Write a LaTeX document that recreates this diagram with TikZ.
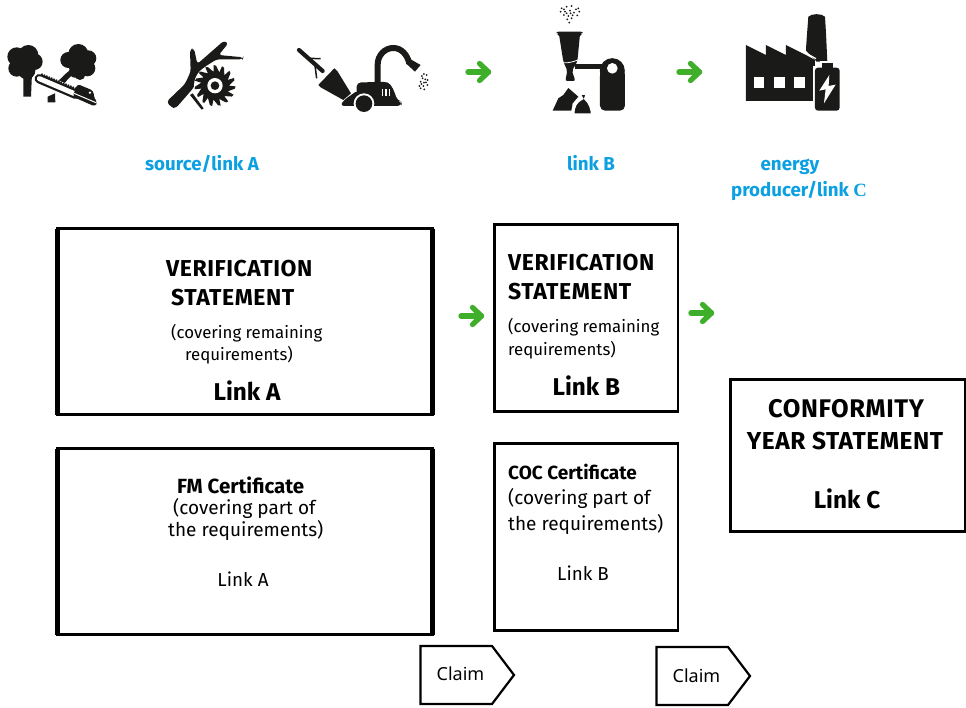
\documentclass[tikz,border=0pt]{standalone}
\usepackage{fontspec}
\usetikzlibrary{calc}
\setmainfont{Fira Sans}
\newfontfamily\capsfont[LetterSpace=2.4]{Fira Sans}
\newfontfamily\claimfont{Noto Sans}
\newfontfamily\serifb{Liberation Serif}
\definecolor{arrowgreen}{HTML}{3FAE2A}
\definecolor{linkblue}{HTML}{0AA0E2}
\definecolor{ink}{HTML}{1A1A18}
\tikzset{
  x=1pt,y=-1pt,
  boxbase/.style={draw=black,line width=2.7pt,fill=white,inner sep=0,outer sep=0,anchor=north west},
  sidebar/.style={draw=black,line width=5pt},
  head/.style={inner sep=0,anchor=base west,font=\capsfont\fontsize{23}{23}\selectfont\bfseries},
  plain/.style={inner sep=0,anchor=base west,font=\fontsize{16.8}{17}\selectfont},
  linkhead/.style={inner sep=0,anchor=base,font=\fontsize{24.3}{24}\selectfont\bfseries},
  cert/.style={inner sep=0,anchor=base west,font=\fontsize{19}{19}\selectfont\bfseries},
  certp/.style={inner sep=0,anchor=base west,font=\fontsize{19}{19}\selectfont},
  linkplain/.style={inner sep=0,anchor=base,font=\fontsize{18.8}{19}\selectfont},
  bluetxt/.style={inner sep=0,anchor=base,text=linkblue,font=\fontsize{18.7}{19}\selectfont\bfseries},
  claimtxt/.style={inner sep=0,anchor=base,font=\claimfont\fontsize{18}{18}\selectfont},
  greenarrow/.style={draw=arrowgreen,line width=5.3pt,line cap=round,line join=round},
  zoomed/.style={x=0.3333pt,y=-0.3333pt},
  claimshape/.style={draw=black,line width=2.2pt,fill=white,line join=miter}
}
\begin{document}
\begin{tikzpicture}
\useasboundingbox (0,0) rectangle (966,707);
\fill[white] (0,0) rectangle (966,707);

% --- icons, drawn in the 3x zoom coordinates
\begin{scope}[zoomed]
 % trees
 \foreach \a/\b/\r in {85/165/30,50/170/28,103/185/25,50/205/25,80/212/26,75/185/35}{\fill[ink] (\a,\b) circle[radius=\r];}
 \fill[ink] (70,220) -- (96,220) -- (93,290) -- (70,290) -- cycle;
 \foreach \a/\b/\r in {235/162/30,205/180/24,265/175/24,235/190/32,262/205/24,225/215/18,240/224/16}{\fill[ink] (\a,\b) circle[radius=\r];}
 \fill[ink] (172,245) .. controls (195,225) and (200,215) .. (220,205) -- (240,215) .. controls (215,222) and (205,235) .. (192,252) -- cycle;
 % chainsaw
 \draw[white,line width=12pt,line cap=round] (118,236) -- (228,283);
 \draw[ink,line width=9.5pt,line cap=round] (118,236) -- (228,283);
 \draw[white,line width=5pt,line cap=round] (118,236) -- (228,283);
 \draw[ink,line width=1.6pt,densely dotted] (124,222) -- (236,269);
 \fill[ink,rounded corners=3pt] (232,252) -- (280,272) -- (283,296) -- (292,306) -- (286,320) -- (218,290) -- cycle;
 \draw[white,line width=1pt] (222,280) -- (288,308);
 \fill[white] (270,278) circle[radius=4];
 \fill[ink] (143,290) -- (165,280) -- (166,307) -- (143,307) -- cycle;
 % branch + saw blade
 \fill[ink,rounded corners=3pt] (500,305) -- (555,252) -- (572,215) -- (570,148) -- (582,145) -- (592,192) -- (672,122) -- (685,130) -- (656,165) -- (730,172) -- (728,178) -- (650,178) -- (612,202) -- (590,235) -- (582,262) -- (527,325) -- (514,322) -- cycle;
 \fill[white] (645,257) circle[radius=63];
 \foreach \i in {0,24,...,336}{
   \fill[ink] (645,257) -- ($(645,257)+(\i:42)$) -- ($(645,257)+(\i+2:62)$) -- ($(645,257)+(\i+9:60)$) .. controls ($(645,257)+(\i+15:50)$) and ($(645,257)+(\i+20:46)$) .. ($(645,257)+(\i+24:42)$) -- cycle;
 }
 \fill[ink] (645,257) circle[radius=43];
 \fill[white] (645,257) circle[radius=23];
 \fill[ink] (645,257) circle[radius=13];
 \fill[ink] (570,285) -- (578,280) -- (611,325) -- (605,329) -- cycle;
 % chipper
 \draw[ink,line width=4.2pt,line cap=round] (897,150) -- (968,213);
 \draw[ink,line width=1.5pt] (925,175) -- (962,176);
 \draw[ink,line width=1.5pt] (945,195) -- (950,235);
 \fill[ink] (955,255) -- (1003,205) -- (1012,213) -- (1053,280) -- (1030,300) -- (962,262) -- cycle;
 \fill[ink,rounded corners=4pt] (1070,318) -- (1070,248) -- (1150,245) .. controls (1175,250) and (1185,280) .. (1192,302) -- (1205,305) -- (1205,318) -- cycle;
 \fill[ink,rounded corners=4pt] (1020,318) -- (1032,300) -- (1075,270) -- (1080,318) -- cycle;
 \draw[ink,line width=6pt] (1133,250) -- (1133,195) .. controls (1133,165) and (1155,144) .. (1180,144) .. controls (1205,144) and (1222,165) .. (1228,190);
 \fill[ink] (1218,190) -- (1232,178) -- (1262,195) -- (1245,215) -- cycle;
 \fill[white] (1092,311) circle[radius=31];
 \fill[ink] (1092,311) circle[radius=25];
 \foreach \a in {1146,1156,1166}{\fill[white] (\a,266) rectangle ++(4,22);}
 \foreach \a/\b in {1272/222,1280/225,1268/235,1276/238,1262/245,1272/248,1283/240,1258/258,1270/258,1282/255,1273/268,1262/265,1266/228,1264/252,1278/247}{\fill[ink] (\a,\b) circle[radius=3];}
\end{scope}

\begin{scope}[xshift=450pt,zoomed]
 % dust
 \foreach \a/\b in {335/25,350/20,365/18,385/25,332/35,345/35,360/32,372/38,388/35,342/45,355/48,368/46,382/46,352/58,365/55,358/68,342/28,378/28,350/40,362/40}{\fill[ink] (\a,\b) circle[radius=3];}
 % funnel
 \fill[ink,rounded corners=2pt] (320,95) -- (398,95) -- (398,101) -- (390,103) -- (382,185) -- (366,212) -- (376,243) -- (346,243) -- (352,212) -- (340,185) -- (327,103) -- (320,101) -- cycle;
 \draw[white,line width=0.8pt] (340,188) .. controls (355,190) and (370,185) .. (384,180);
 \fill[ink] (375,192) rectangle (460,206);
 % tower
 \fill[ink,rounded corners=5pt] (450,332) -- (450,212) -- (487,175) -- (525,212) -- (525,332) -- cycle;
 \fill[ink] (487,212) circle[radius=37.5];
 \fill[white] (487,205) circle[radius=16];
 % pile
 \fill[ink] (308,332) -- (325,295) -- (340,285) -- (355,264) -- (385,290) -- (368,310) -- (364,332) -- cycle;
 % bag
 \draw[white,line width=2pt,fill=ink] (371,343) .. controls (370,320) and (378,305) .. (397,296) -- (390,282) -- (410,282) -- (405,296) .. controls (420,310) and (424,325) .. (426,343) -- cycle;
 % factory
 \fill[ink] (1075,50) .. controls (1085,40) and (1115,40) .. (1125,50) .. controls (1128,90) and (1130,140) .. (1132,185) -- (1100,185) -- (1068,152) .. controls (1070,110) and (1074,70) .. (1075,50) -- cycle;
 \fill[ink] (888,135) -- (948,165) -- (948,135) -- (1008,165) -- (1008,135) -- (1068,165) -- (1095,180) -- (1095,303) -- (888,303) -- cycle;
 \draw[white,line width=1.2pt] (1066,158) -- (1098,176);
 \foreach \a in {912,973,1033}{\fill[white] (\a,232) rectangle ++(31,31);}
 % battery
 \fill[white] (1089,197) rectangle (1175,340);
 \fill[white] (1109,184) rectangle (1156,200);
 \fill[ink,rounded corners=3pt] (1095,203) rectangle (1169,332);
 \fill[ink] (1115,190) rectangle (1150,204);
 \fill[white] (1138,225) -- (1108,272) -- (1127,268) -- (1122,310) -- (1157,254) -- (1136,258) -- cycle;
\end{scope}

% --- green arrows
\foreach \n/\a/\b in {ga/466/72,gb/677/72,gc/459/316,gd/689/313}{
  \coordinate (\n s) at (\a+2,\b);
  \coordinate (\n e) at (\a+22.5,\b);
  \draw[greenarrow] (\n s) -- (\n e);
  \draw[greenarrow] ($(\n e)+(-9,-8.5)$) -- (\n e) -- ($(\n e)+(-9,8.5)$);
}

% --- blue labels
\node[bluetxt] (lblA) at (202,170) {source/link A};
\node[bluetxt] (lblB) at (591,170) {link B};
\node[bluetxt] (lblC1) at (790,170) {energy};
\node[bluetxt] (lblC2) at (799,196) {producer/link {\serifb C}};

% --- boxes
\node[boxbase,minimum width=375pt,minimum height=186pt] (b1) at (57.5,228.7) {};
\draw[sidebar] (b1.north west) -- (b1.south west);
\draw[sidebar] (b1.north east) -- (b1.south east);
\node[head] (t1a) at (166,276) {VERIFICATION};
\node[head] (t1b) at (171,305) {STATEMENT};
\node[plain] (t1c) at (171,338) {(covering remaining};
\node[plain] (t1d) at (185,360) {requirements)};
\node[linkhead] (t1e) at (247,400) {Link A};

\node[boxbase,minimum width=183.3pt,minimum height=186.5pt] (b2) at (494.7,224.7) {};
\node[head] (t2a) at (508,270) {VERIFICATION};
\node[head] (t2b) at (508,299) {STATEMENT};
\node[plain] (t2c) at (508,332) {(covering remaining};
\node[plain] (t2d) at (508,355) {requirements)};
\node[linkhead] (t2e) at (586.3,395) {Link B};

\node[boxbase,minimum width=375pt,minimum height=186pt] (b3) at (57.5,448.7) {};
\draw[sidebar] (b3.north west) -- (b3.south west);
\draw[sidebar] (b3.north east) -- (b3.south east);
\node[cert,font=\fontsize{20.5}{20}\selectfont\bfseries] (t3a) at (177,493) {FM Certificate};
\node[certp] (t3b) at (173,514) {(covering part of};
\node[certp] (t3c) at (168,536) {the requirements)};
\node[linkplain] (t3d) at (243,586) {Link A};

\node[boxbase,minimum width=183.3pt,minimum height=186.5pt] (b4) at (494.7,443.7) {};
\node[cert] (t4a) at (508,479) {COC Certificate};
\node[certp] (t4b) at (508,504) {(covering part of};
\node[certp] (t4c) at (508,530) {the requirements)};
\node[linkplain] (t4d) at (583,580) {Link B};

\node[boxbase,minimum width=234.3pt,minimum height=151.5pt] (b5) at (730.7,379.7) {};
\node[inner sep=0,anchor=base,font=\capsfont\fontsize{25.5}{25}\selectfont\bfseries] (t5a) at (846,417) {CONFORMITY};
\node[inner sep=0,anchor=base,font=\capsfont\fontsize{24.5}{25}\selectfont\bfseries] (t5b) at (845,449) {YEAR STATEMENT};
\node[linkhead] (t5c) at (847,508) {Link C};

% --- claims
\coordinate (c1a) at (420.5,646);
\coordinate (c1b) at (492,646);
\coordinate (c1c) at (514,675);
\coordinate (c1d) at (492,704);
\coordinate (c1e) at (420.5,704);
\draw[claimshape] (c1a) -- (c1b) -- (c1c) -- (c1d) -- (c1e) -- cycle;
\node[claimtxt] (cl1) at (460.5,680) {Claim};
\coordinate (c2a) at (656.5,647);
\coordinate (c2b) at (728,647);
\coordinate (c2c) at (750,676);
\coordinate (c2d) at (728,705);
\coordinate (c2e) at (656.5,705);
\draw[claimshape] (c2a) -- (c2b) -- (c2c) -- (c2d) -- (c2e) -- cycle;
\node[claimtxt] (cl2) at (696.5,682) {Claim};
\end{tikzpicture}
\end{document}
